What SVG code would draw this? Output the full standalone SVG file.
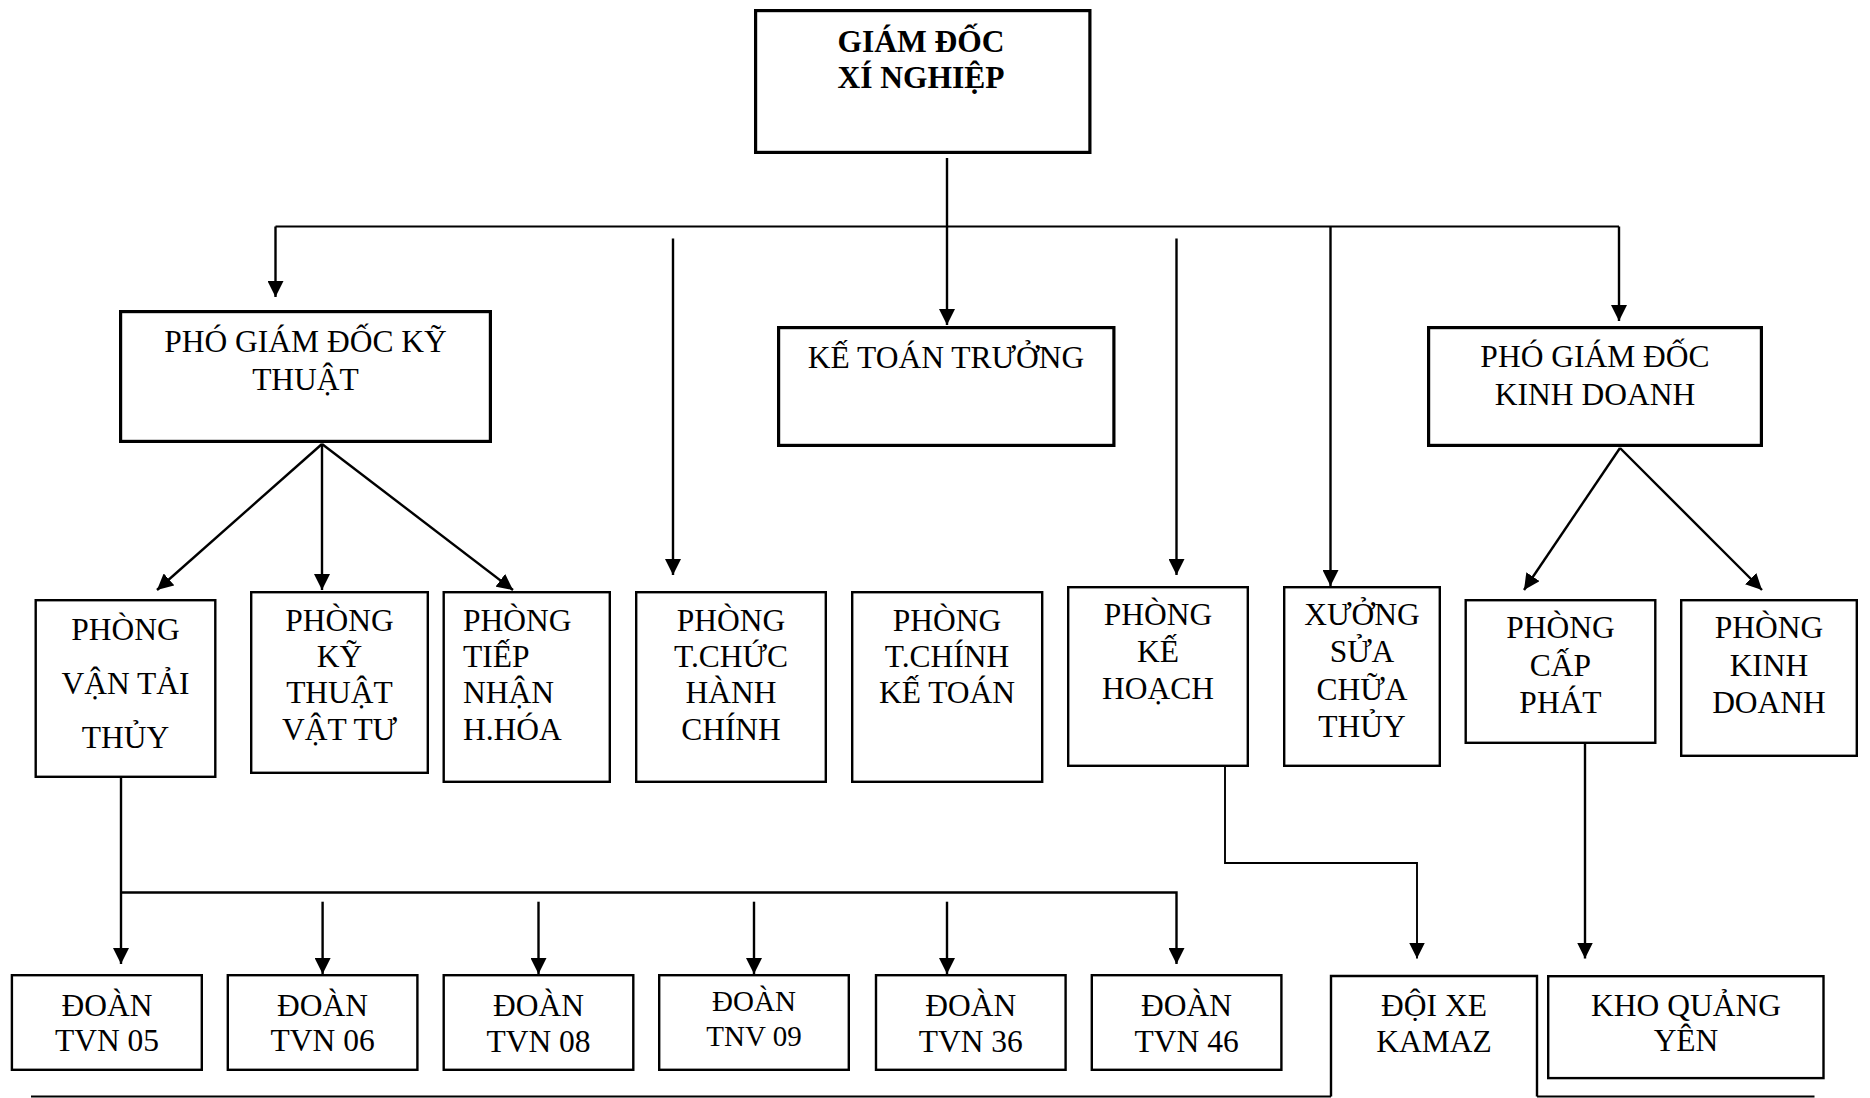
<svg xmlns="http://www.w3.org/2000/svg" width="1870" height="1098" viewBox="0 0 1870 1098">
<defs>
<style>
.t{font-family:"Liberation Serif","Times New Roman",serif;font-size:31.5px;fill:#000;text-anchor:middle}
.tl{text-anchor:start}
.b{font-weight:bold}
.s{font-size:29px}
.bx3{fill:#fff;stroke:#000;stroke-width:3.2}
.bx2{fill:#fff;stroke:#000;stroke-width:2.4}
.c{fill:none;stroke:#000;stroke-width:2.4}
.ct{fill:none;stroke:#000;stroke-width:1.9}
.ca{fill:none;stroke:#000;stroke-width:2.4;marker-end:url(#ah)}
.cta{fill:none;stroke:#000;stroke-width:1.9;marker-end:url(#ah)}
</style>
<marker id="ah" viewBox="0 0 16 16" refX="16" refY="8" markerWidth="16" markerHeight="16" orient="auto" markerUnits="userSpaceOnUse">
<path d="M0,0 L16,8 L0,16 z" fill="#000"/>
</marker>
</defs>
<g id="connectors">
<line class="ca" x1="947" y1="158" x2="947" y2="325"/>
<line class="ct" x1="275.5" y1="226.5" x2="1619" y2="226.5"/>
<line class="ca" x1="275.5" y1="226.5" x2="275.5" y2="297"/>
<line class="ca" x1="1619" y1="226.5" x2="1619" y2="321"/>
<line class="ca" x1="673" y1="238.5" x2="673" y2="575"/>
<line class="ca" x1="1176.5" y1="238.5" x2="1176.5" y2="575"/>
<line class="ca" x1="1330.5" y1="226.5" x2="1330.5" y2="586"/>
<line class="ca" x1="322" y1="444" x2="157" y2="590"/>
<line class="ca" x1="322" y1="444" x2="322" y2="590"/>
<line class="ca" x1="322" y1="444" x2="513" y2="590"/>
<line class="ca" x1="1620" y1="448" x2="1524" y2="590"/>
<line class="ca" x1="1620" y1="448" x2="1762" y2="590"/>
<line class="ca" x1="121" y1="772" x2="121" y2="964"/>
<path class="ca" d="M121,892.5 L1176.5,892.5 L1176.5,964"/>
<line class="ca" x1="322.6" y1="901.7" x2="322.6" y2="974"/>
<line class="ca" x1="538.5" y1="901.7" x2="538.5" y2="974"/>
<line class="ca" x1="754" y1="901.7" x2="754" y2="974"/>
<line class="ca" x1="947" y1="901.7" x2="947" y2="974"/>
<path class="cta" d="M1225,767 L1225,863 L1417,863 L1417,958.5"/>
<line class="ca" x1="1585" y1="744" x2="1585" y2="958.5"/>
<line class="ct" x1="31" y1="1096.5" x2="1331" y2="1096.5"/>
<line class="ct" x1="1537" y1="1096.5" x2="1814.5" y2="1096.5"/>
</g>
<g id="giam-doc">
<rect class="bx3" x="755.6" y="10.6" width="334.3" height="141.8"/>
<text class="t b" x="921" y="52">GIÁM ĐỐC</text>
<text class="t b" x="921" y="88">XÍ NGHIỆP</text>
</g>
<g id="pgd-ky-thuat">
<rect class="bx3" x="120.6" y="311.6" width="369.8" height="129.8"/>
<text class="t" x="305.5" y="352">PHÓ GIÁM ĐỐC KỸ</text>
<text class="t" x="305.5" y="390">THUẬT</text>
</g>
<g id="ke-toan-truong">
<rect class="bx3" x="778.6" y="327.6" width="335.3" height="117.8"/>
<text class="t" x="946" y="368">KẾ TOÁN TRƯỞNG</text>
</g>
<g id="pgd-kinh-doanh">
<rect class="bx3" x="1428.6" y="327.6" width="332.8" height="117.8"/>
<text class="t" x="1595" y="367">PHÓ GIÁM ĐỐC</text>
<text class="t" x="1595" y="405">KINH DOANH</text>
</g>
<g id="phong-van-tai-thuy">
<rect class="bx2" x="35.7" y="600.2" width="179.6" height="176.6"/>
<text class="t" x="125.5" y="640">PHÒNG</text>
<text class="t" x="125.5" y="694">VẬN TẢI</text>
<text class="t" x="125.5" y="748">THỦY</text>
</g>
<g id="phong-ky-thuat-vat-tu">
<rect class="bx2" x="251.2" y="592.2" width="176.6" height="180.6"/>
<text class="t" x="339.5" y="631">PHÒNG</text>
<text class="t" x="339.5" y="667">KỸ</text>
<text class="t" x="339.5" y="703">THUẬT</text>
<text class="t" x="339.5" y="740">VẬT TƯ</text>
</g>
<g id="phong-tiep-nhan">
<rect class="bx2" x="443.7" y="592.2" width="166.1" height="189.6"/>
<text class="t tl" x="463" y="631">PHÒNG</text>
<text class="t tl" x="463" y="667">TIẾP</text>
<text class="t tl" x="463" y="703">NHẬN</text>
<text class="t tl" x="463" y="740">H.HÓA</text>
</g>
<g id="phong-to-chuc">
<rect class="bx2" x="636.2" y="592.2" width="189.6" height="189.6"/>
<text class="t" x="731" y="631">PHÒNG</text>
<text class="t" x="731" y="667">T.CHỨC</text>
<text class="t" x="731" y="703">HÀNH</text>
<text class="t" x="731" y="740">CHÍNH</text>
</g>
<g id="phong-tai-chinh">
<rect class="bx2" x="852.2" y="592.2" width="190" height="189.6"/>
<text class="t" x="947" y="631">PHÒNG</text>
<text class="t" x="947" y="667">T.CHÍNH</text>
<text class="t" x="947" y="703">KẾ TOÁN</text>
</g>
<g id="phong-ke-hoach">
<rect class="bx2" x="1068.2" y="587.2" width="179.6" height="178.6"/>
<text class="t" x="1158" y="625">PHÒNG</text>
<text class="t" x="1158" y="662">KẾ</text>
<text class="t" x="1158" y="699">HOẠCH</text>
</g>
<g id="xuong-sua-chua">
<rect class="bx2" x="1284.2" y="587.2" width="155.6" height="178.6"/>
<text class="t" x="1362" y="625">XƯỞNG</text>
<text class="t" x="1362" y="662">SỬA</text>
<text class="t" x="1362" y="700">CHỮA</text>
<text class="t" x="1362" y="737">THỦY</text>
</g>
<g id="phong-cap-phat">
<rect class="bx2" x="1465.7" y="600.2" width="189.6" height="142.6"/>
<text class="t" x="1560.5" y="638">PHÒNG</text>
<text class="t" x="1560.5" y="676">CẤP</text>
<text class="t" x="1560.5" y="713">PHÁT</text>
</g>
<g id="phong-kinh-doanh">
<rect class="bx2" x="1681.2" y="600.2" width="175.6" height="155.6"/>
<text class="t" x="1769" y="638">PHÒNG</text>
<text class="t" x="1769" y="676">KINH</text>
<text class="t" x="1769" y="713">DOANH</text>
</g>
<g id="doan-tvn-05">
<rect class="bx2" x="11.9" y="975.2" width="189.9" height="94.6"/>
<text class="t" x="107" y="1016">ĐOÀN</text>
<text class="t" x="107" y="1051">TVN 05</text>
</g>
<g id="doan-tvn-06">
<rect class="bx2" x="227.8" y="975.2" width="189.6" height="94.6"/>
<text class="t" x="322.6" y="1016">ĐOÀN</text>
<text class="t" x="322.6" y="1051">TVN 06</text>
</g>
<g id="doan-tvn-08">
<rect class="bx2" x="443.7" y="975.2" width="189.6" height="94.6"/>
<text class="t" x="538.5" y="1016">ĐOÀN</text>
<text class="t" x="538.5" y="1052">TVN 08</text>
</g>
<g id="doan-tnv-09">
<rect class="bx2" x="659.2" y="975.2" width="189.6" height="94.6"/>
<text class="t s" x="754" y="1011">ĐOÀN</text>
<text class="t s" x="754" y="1046">TNV 09</text>
</g>
<g id="doan-tvn-36">
<rect class="bx2" x="876" y="975.2" width="189.6" height="94.6"/>
<text class="t" x="970.8" y="1016">ĐOÀN</text>
<text class="t" x="970.8" y="1052">TVN 36</text>
</g>
<g id="doan-tvn-46">
<rect class="bx2" x="1091.8" y="975.2" width="189.6" height="94.6"/>
<text class="t" x="1186.6" y="1016">ĐOÀN</text>
<text class="t" x="1186.6" y="1052">TVN 46</text>
</g>
<g id="doi-xe-kamaz">
<path class="c" d="M1331,1096.5 L1331,976 L1537,976 L1537,1096.5"/>
<text class="t" x="1434" y="1016">ĐỘI XE</text>
<text class="t" x="1434" y="1052">KAMAZ</text>
</g>
<g id="kho-quang-yen">
<rect class="bx2" x="1548.2" y="976.2" width="275.3" height="101.9"/>
<text class="t" x="1686" y="1016">KHO QUẢNG</text>
<text class="t" x="1686" y="1051">YÊN</text>
</g>
</svg>
